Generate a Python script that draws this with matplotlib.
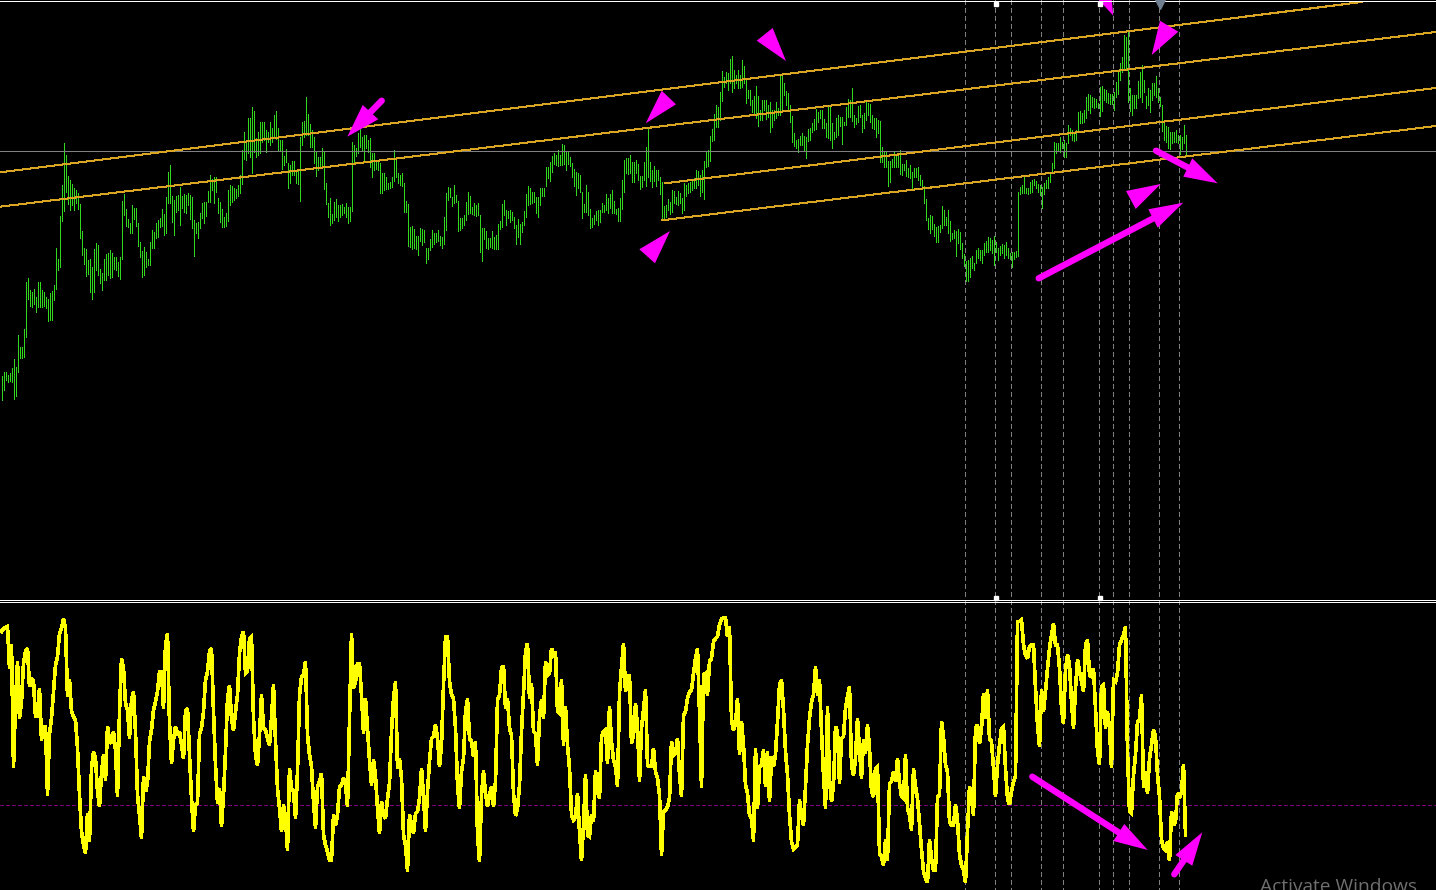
import numpy as np
import matplotlib
matplotlib.use("Agg")
import matplotlib.pyplot as plt
from matplotlib.patches import Polygon

# Price bars (top, bottom) read in 3x crop units, three successive stretches
bars_left = [(948,1020),(936,990),(936,960),(945,965),(938,962),(925,965),(897,1016),(920,1008),(825,935),(862,893),(862,893),(807,890),(666,830),(655,716),(690,737),(695,742),(687,733),(710,755),(666,740),(666,742),(690,740),(695,737),(710,745),(718,782),(698,780),(693,780),(675,720),(565,687),(597,630),(468,622),(375,482),(250,452),(285,396),(348,432),(360,450),(372,435),(385,450),(390,430),(400,447),(432,533),(513,585),(565,612),(567,647),(600,642),(597,695),(622,718),(568,695),(550,630),(555,645),(628,670),(640,690),(597,660),(582,660),(580,645),(570,655),(578,652),(590,628),(592,630),(605,647),(590,657),(422,597),(402,465),(447,498),(477,502),(490,520),(435,518),(445,478),(443,497),(490,557),(545,590),(572,650),(560,645),(575,620),(597,615),(547,615),(510,563),(515,563),(490,535),(480,530),(473,502),(447,498),(462,525),(410,518),(335,430),(315,428),(408,487),(420,525),(408,455),(405,450),(380,495),(408,445),(402,455),(405,460),(400,435),(405,477),(412,505),(480,587),(490,520),(487,533),(460,505),(430,475),(425,490),(425,467),(392,425),(345,425),(358,390),(350,430),(350,397),(415,460),(425,485),(447,500),(470,500),(460,497),(390,483),(375,435),(378,425),(385,420),(388,415),(375,408),(345,400),(270,372),(217,297),(245,300),(175,280),(175,290),(142,338),(153,275),(235,290),(217,285),(185,280),(185,245),(185,240),(210,275),(215,245),(185,255),(205,245),(165,235),(153,238),(205,270),(240,270),(240,327),(288,315),(268,305),(310,384),(315,370),(303,345),(303,345),(330,370),(330,372),(232,422),(185,255),(183,230),(112,225),(162,225),(192,260),(210,260),(230,310),(275,348),(292,330),(290,320),(265,325),(275,387),(370,432),(428,470),(415,495),(462,490),(425,480),(418,470),(435,483),(435,470),(432,465),(440,460),(430,470),(440,488),(440,483),(247,452),(255,310),(265,288),(220,280),(205,260),(230,270),(225,302),(225,265),(240,275),(235,320),(280,350),(280,330),(300,328),(305,330),(310,398),(340,398),(340,390),(352,388),(368,388),(365,385),(350,380),(270,362),(290,350),(338,368),(345,375),(340,378),(370,457),(423,455),(432,558),(500,560),(498,567),(507,565),(528,568),(528,585),(503,543),(508,555),(510,545),(563,608),(565,597),(537,570),(510,560),(520,552),(520,545),(510,543),(527,555),(530,563),(470,552),(398,510),(380,420),(383,412),(410,438),(375,430),(405,425),(423,513),(473,510),(473,505),(465,495),(425,480),(395,462),(408,458),(440,463),(430,465),(435,468),(430,465),(465,575)]
bars_mid = [(625,722),(625,657),(633,685),(655,687),(655,680),(633,685),(650,687),(645,687),(612,687),(603,627),(552,622),(540,585),(570,615),(572,595),(570,605),(575,600),(590,625),(615,672),(598,650),(612,672),(605,635),(573,615),(522,590),(498,555),(503,552),(515,550),(517,547),(530,578),(530,590),(505,555),(505,528),(505,528),(440,497),(440,475),(427,482),(407,455),(400,432),(405,435),(390,437),(405,435),(372,435),(375,432),(395,450),(395,432),(410,437),(430,470),(447,498),(455,525),(460,505),(465,517),(515,595),(552,575),(495,577),(515,585),(567,625),(595,620),(585,613),(572,600),(570,615),(570,605),(548,575),(555,575),(522,570),(535,580),(522,565),(510,580),(543,580),(567,582),(565,603),(533,603),(480,567),(420,515),(413,460),(415,462),(405,460),(425,485),(425,485),(420,460),(432,480),(468,507),(468,500),(427,480),(380,497),(322,472),(427,482),(450,500),(437,482),(450,497),(450,480),(470,523),(487,600),(557,600),(555,590),(537,570),(545,582),(510,575),(513,550),(530,553),(513,555),(520,550),(535,578),(490,570),(495,528),(490,518),(485,515),(478,510),(475,505),(450,505),(453,495),(465,527),(450,515),(423,537),(392,440),(390,437),(348,422),(327,362),(282,360),(255,320),(262,320),(217,300),(153,243),(170,200),(155,190),(160,210),(117,190),(108,217),(150,205),(165,190),(150,205),(165,205),(120,200),(137,190),(180,248),(210,235),(210,255),(240,275),(228,285),(198,293),(227,317),(270,300),(240,300),(240,270),(240,298),(255,290),(245,335),(270,320),(270,300),(245,295),(265,285),(165,285),(160,270),(190,225),(212,255),(220,273),(255,305),(288,365),(338,378),(360,385),(358,395),(348,375),(340,375),(348,390),(350,413),(328,362),(325,360),(308,335),(298,330),(267,327),(275,305),(270,295),(270,325),(298,325),(310,352),(258,355),(260,360),(310,383),(335,358),(295,352),(285,345),(290,318),(290,372),(305,315),(262,315),(238,290),(240,290),(205,303),(285,322),(293,312),(258,305),(255,290),(285,335),(278,325),(243,300),(250,285),(253,305),(285,325),(293,328),(295,350),(300,338),(303,427),(382,425),(393,442),(395,442),(423,497),(423,485),(417,440),(396,440),(403,442),(408,440),(390,462),(432,465),(432,450),(420,467),(445,472),(435,475),(457,503),(445,470),(443,470),(442,480),(465,495),(480,508),(498,550),(537,600),(593,628),(585,640),(587,628),(612,647),(622,665),(618,665),(615,635),(558,625),(570,615),(590,615),(570,640),(603,662),(640,657),(630,655),(632,707),(628,670),(637,687)]
bars_right = [(730,775),(762,797),(782,842),(780,842),(775,830),(768,805),(790,810),(750,790),(745,775),(750,780),(750,788),(730,765),(722,755),(710,757),(715,750),(720,758),(708,795),(725,755),(745,780),(738,765),(733,760),(735,775),(727,765),(745,775),(760,778),(755,800),(755,777),(752,770),(575,768),(560,582),(555,578),(525,580),(565,580),(565,582),(545,580),(540,575),(538,555),(542,565),(552,575),(555,585),(560,625),(550,582),(540,565),(530,565),(515,545),(490,520),(425,503),(430,460),(430,452),(410,455),(425,445),(420,472),(430,472),(375,430),(385,405),(390,420),(395,422),(390,420),(335,395),(333,370),(338,370),(330,365),(292,355),(283,330),(285,338),(290,320),(295,325),(298,322),(308,325),(260,348),(258,332),(268,300),(270,305),(280,310),(283,312),(282,312),(275,330),(245,290),(210,282),(190,240),(170,215),(105,208),(112,205),(90,305),(265,333),(285,345),(285,325),(285,325),(243,295),(215,290),(195,305),(240,275),(287,325),(265,315),(270,335),(250,300),(250,285),(228,290),(265,305),(290,318),(315,392),(362,420),(378,425),(380,445),(395,447),(395,430),(395,425),(390,425),(405,430),(405,462),(410,447),(375,430),(405,468)]

# Oscillator readings in 3x crop units, three successive stretches
osc_left = [110,100,98,95,220,150,518,320,200,370,320,205,170,160,275,250,260,365,365,280,435,395,395,600,415,370,290,210,185,115,100,72,100,305,255,350,365,375,460,600,710,750,775,655,740,520,470,490,590,635,535,480,555,395,435,445,410,465,605,350,190,220,325,345,430,315,290,410,600,660,730,545,590,565,440,405,345,320,290,230,230,340,150,115,385,505,435,395,420,410,450,490,350,340,480,610,710,630,625,415,400,350,255,230,170,160,350,510,625,580,695,600,470,310,272,370,405,350,300,175,125,110,235,230,130,125,370,480,510,420,300,400,405,430,450,370,270,440,580,640,710,630,670,765,520,580,590,670,530,300,245,240,200,420,480,515,620,700,575,560,535,720,750,770,795,795,660,690,660,575,570,550,570,635,370,115,280,260,205,205,300,415,310,400,495,570,495,545,640,715,620,660,670,610,565,410,310,260,520,490,550,720,750,828,660,690,715,655,650,610,520,600,710,590,500,430,425,390,430,515,450,270,125,125,260,300,310,400,570,640,530,490,350,312,430,440,485,440,720,800]
osc_mid = [600,528,595,635,600,575,635,560,315,300,220,213,340,310,400,420,595,662,640,570,410,295,170,145,310,265,410,415,510,365,315,370,200,240,235,160,185,170,350,355,255,450,335,450,520,660,675,665,595,710,797,690,538,720,725,660,680,528,590,610,425,410,405,505,335,440,495,515,575,295,215,145,290,250,240,445,420,325,395,558,400,345,285,510,515,515,460,530,550,600,780,650,645,635,610,440,480,475,430,540,605,360,350,310,290,285,235,190,160,350,578,240,235,300,200,190,140,130,125,90,72,68,68,125,95,375,405,385,310,478,380,450,570,595,660,670,738,460,640,515,510,465,575,470,620,485,515,478,380,270,255,345,470,540,660,740,762,755,750,615,660,690,575,450,370,320,300,215,300,255,410,540,640,335,555,620,570,395,410,565,430,425,340,305,275,510,540,490,370,465,550,435,475,390,460,590,605,520,515,775,785,810,735,795,565,560,530,560,490,565,605,610,480,640,660,705,522,575,610,685,765,830,850,862,735,790,825,825,605,600,380,425,510,530,680,690,690,630,675,780]
osc_right = [810,825,862,710,575,600,660,400,390,445,400,295,370,285,430,440,520,605,510,450,400,395,520,610,628,590,560,545,80,80,75,150,180,190,155,150,150,280,390,455,285,350,290,220,160,120,85,150,150,220,340,385,225,180,210,320,400,280,195,230,260,290,150,135,240,245,220,340,470,508,275,270,400,350,400,518,255,260,235,150,135,120,95,470,650,655,540,480,380,375,300,578,530,595,490,450,405,425,540,605,735,760,765,740,797,650,690,680,595,610,590,508,720]

# Chart furniture, in pixels of the price and oscillator panes
event_x = [965.5, 995.5, 1011.5, 1041.5, 1063.5, 1099.5, 1113.5, 1129.5, 1159.5, 1179.5]
channel_lines = [((0, 172.3), (1362, 2)), ((0, 206.7), (1436, 32)),
                 ((665, 183.3), (1436, 88)), ((661.7, 220.3), (1436, 126))]
flags_top = [
    [(661.7, 90.7), (676, 104.3), (645.7, 123.3)],
    [(772.7, 28), (786, 61), (756.7, 40.7)],
    [(670, 231), (655, 263.3), (639.3, 249.3)],
    [(1160, 20.7), (1178.3, 31.7), (1151.7, 55)],
    [(1099, 0), (1111.7, 0), (1113.3, 15.7)],
    [(1160.7, 184), (1126, 191), (1135.7, 209)],
]
arrows_top = [
    ((381.7, 100.7), (347.3, 136.7), (362.7, 105), (378.3, 119.3)),
    ((1038.7, 278.3), (1183.3, 202.7), (1148.3, 209.3), (1157.7, 227.7)),
    ((1156, 150.7), (1217.7, 183.3), (1192.3, 158.3), (1183.3, 176.7)),
]
arrows_bottom = [
    ((1032.3, 776.7), (1147.7, 850), (1124.3, 824), (1113.3, 841)),
    ((1174.3, 874.3), (1202.3, 832.3), (1175.3, 855), (1192.3, 865.7)),
]

W, H = 1436, 890
DIVIDER = 601
PX = 0.72  # one pixel, in points, at 100 dpi
BAR_GREEN = "#32D81E"
ORANGE = "#DAA520"
MAGENTA = "#FF00FF"

def from_crop(pairs, offset):
    return offset + np.asarray(pairs, dtype=float) / 3

bars = np.vstack([from_crop(bars_left, 60), from_crop(bars_mid, 20), from_crop(bars_right, 0)])
osc = np.concatenate([from_crop(osc_left, 595), from_crop(osc_mid, 595), from_crop(osc_right, 595)])
bar_x = 1.5 + 2 * np.arange(len(bars))
osc_x = 1.5 + 2 * np.arange(len(osc))

fig = plt.figure(figsize=(W / 100, H / 100), dpi=100, facecolor="black")
ax_top = fig.add_axes([0, 1 - DIVIDER / H, 1, DIVIDER / H])
ax_bot = fig.add_axes([0, 0, 1, 1 - DIVIDER / H])
ax_top.set_ylim(DIVIDER, 0)
ax_bot.set_ylim(H, DIVIDER)
for ax in (ax_top, ax_bot):
    ax.set_xlim(0, W)
    ax.set_facecolor("black")
    ax.axis("off")
    ax.vlines(np.array(event_x) - 0.5, 0, H, colors="#808080", linewidth=PX,
              linestyles=(0, (4.5, 3.5)), antialiased=False, zorder=1)

ax_top.vlines(bar_x, bars[:, 0], bars[:, 1], colors=BAR_GREEN, linewidth=PX,
              antialiased=False, zorder=2)
ax_top.axhspan(151, 152, facecolor="#808080", linewidth=0, antialiased=False, zorder=3)
for (p, q) in channel_lines:
    ax_top.plot([p[0], q[0]], [p[1], q[1]], color=ORANGE, linewidth=PX,
                antialiased=False, zorder=3)

ax_bot.hlines(805.0, 0, W, colors="#800080", linewidth=PX,
              linestyles=(0, (3.5, 2.5)), antialiased=False, zorder=1)
ax_bot.plot(osc_x, osc, color="#FFFF00", linewidth=1.9, antialiased=False,
            solid_joinstyle="miter", zorder=2)

def draw_arrow(ax, tail, tip, barb_a, barb_b):
    neck = ((barb_a[0] + barb_b[0]) / 2, (barb_a[1] + barb_b[1]) / 2)
    ax.plot([tail[0], neck[0]], [tail[1], neck[1]], color=MAGENTA, linewidth=4.6,
            solid_capstyle="round", zorder=5)
    ax.add_patch(Polygon([tip, barb_a, barb_b], closed=True, facecolor=MAGENTA,
                         edgecolor="none", zorder=5))

for tri in flags_top:
    ax_top.add_patch(Polygon(tri, closed=True, facecolor=MAGENTA, edgecolor="none", zorder=5))
for arrow in arrows_top:
    draw_arrow(ax_top, *arrow)
for arrow in arrows_bottom:
    draw_arrow(ax_bot, *arrow)

# Pane borders and the small event markers
ax_top.axhspan(1, 2, facecolor="white", linewidth=0, antialiased=False, zorder=6)
ax_top.axhspan(600, 601, facecolor="white", linewidth=0, antialiased=False, zorder=6)
ax_bot.axhspan(602, 603, facecolor="white", linewidth=0, antialiased=False, zorder=6)
ax_top.plot([995.5, 1099.5], [4, 4], "s", color="white", markersize=2.2, zorder=7)
ax_top.plot([995.5, 1099.5], [598, 598], "s", color="white", markersize=2.2, zorder=7)
ax_top.plot([1159.5], [3.5], "v", color="#708090", markersize=6.5, zorder=7)

ax_bot.text(1260, 891.5, "Activate Windows", color="#6f6f6f", fontsize=13.8,
            family="Open Sans", ha="left", va="baseline", zorder=8, clip_on=True)

fig.savefig("out.png", dpi=100, facecolor="black")
